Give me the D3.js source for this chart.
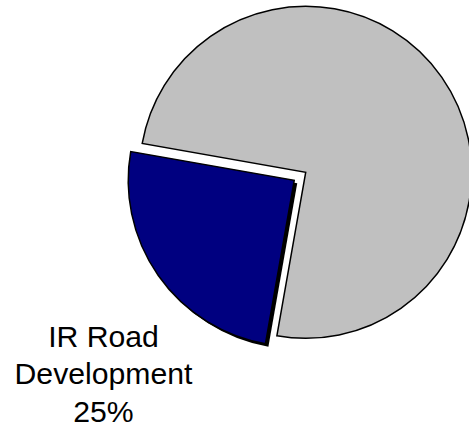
<!DOCTYPE html>
<html>
<head>
<meta charset="utf-8">
<script src="https://cdn.jsdelivr.net/npm/d3@7"></script>
<style>
html,body{margin:0;padding:0;background:#fff;}
svg{display:block;}
</style>
</head>
<body>
<svg id="chart" width="469" height="430"></svg>
<script>
const categories = ["Other", "IR Road Development"];
const values = [75, 25];
const colors = ["#c0c0c0", "#000080"];
const labelLines = [null, ["IR Road", "Development", "25%"]];
const exploded = [false, true];

const W = 469, H = 430;
const cx = 305.7, cy = 172.3, R = 166;
const explodeDist = 14;
const shadowOff = 3;

const svg = d3.select("#chart");
const deg = Math.PI / 180;
const pie = d3.pie().sort(null).startAngle(-80 * deg).endAngle(280 * deg);
const arcs = pie(values);
const arc = d3.arc().innerRadius(0).outerRadius(R);

const g = svg.append("g").attr("transform", `translate(${cx},${cy})`);

arcs.forEach((a, i) => {
  const mid = (a.startAngle + a.endAngle) / 2;
  const off = exploded[i] ? explodeDist : 0;
  const dx = Math.sin(mid) * off, dy = -Math.cos(mid) * off;
  const sg = g.append("g").attr("transform", `translate(${dx},${dy})`);
  if (exploded[i]) {
    sg.append("path")
      .attr("d", arc(a))
      .attr("transform", `translate(${shadowOff},${shadowOff})`)
      .attr("fill", "#000");
  }
  sg.append("path")
    .attr("d", arc(a))
    .attr("fill", colors[i])
    .attr("stroke", "#000")
    .attr("stroke-width", 1.5)
    .attr("stroke-linejoin", "miter");
});

// label for IR Road Development
const lx = 103.5, ly0 = 346.7, lh = 37.5;
const t = svg.append("text")
  .attr("text-anchor", "middle")
  .attr("font-family", "Liberation Sans, Arial, sans-serif")
  .attr("font-size", 30.2)
  .attr("fill", "#000");
labelLines[1].forEach((s, k) => {
  t.append("tspan").attr("x", lx).attr("y", ly0 + k * lh).text(s);
});
</script>
</body>
</html>
